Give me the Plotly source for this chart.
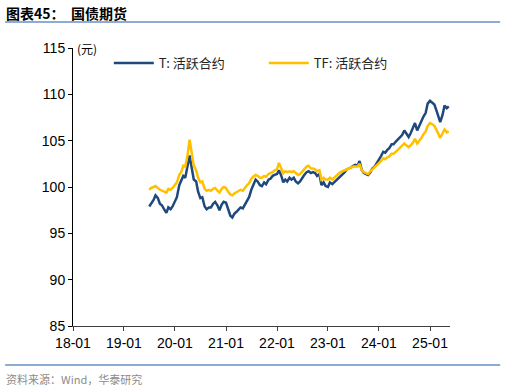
import pandas as pd
import plotly.graph_objects as go

# Semi-monthly readings starting 2019-07-01
start_date = "2019-07-01"
t_values = [
    97.9, 98.2, 98.6, 99.1, 98.8, 98.2, 98.0, 97.6, 97.2, 97.8, 97.6, 97.9,
    98.4, 98.9, 100.2, 100.6, 101.2, 101.0, 102.2, 103.4, 102.0, 100.8, 100.6, 99.5,
    98.8, 98.9, 97.9, 97.6, 97.8, 97.8, 98.2, 98.4, 98.0, 97.5, 98.1, 98.4,
    98.3, 97.6, 96.9, 96.7, 97.1, 97.3, 97.6, 97.8, 97.7, 98.1, 98.6, 98.9,
    99.7, 100.3, 100.8, 100.6, 100.2, 100.1, 100.5, 100.3, 100.8, 100.9, 101.2, 101.3,
    101.4, 101.8, 101.2, 100.5, 100.8, 100.6, 101.0, 100.8, 101.0, 100.6, 100.4, 100.6,
    101.0, 101.3, 101.6, 101.7, 101.5, 101.6, 101.5, 101.2, 101.4, 100.2, 100.5, 100.1,
    100.0, 100.5, 100.3, 100.5, 100.8, 101.0, 101.2, 101.4, 101.6, 101.9, 102.0, 102.1,
    102.3, 102.4, 102.3, 102.8, 101.8, 101.5, 101.4, 101.3, 101.6, 102.0, 102.2, 102.5,
    102.9, 103.3, 103.8, 103.7, 104.0, 104.2, 104.6, 104.6, 104.9, 105.1, 105.4, 105.6,
    106.1, 105.8, 105.4, 105.8, 106.4, 106.9, 106.1, 106.6, 107.1, 107.6, 108.0, 109.0,
    109.3, 109.1, 108.9, 108.3, 107.6, 107.0, 107.8, 108.8, 108.5, 108.7,
]
tf_values = [
    99.7, 99.9, 100.0, 100.1, 99.9, 99.7, 99.6, 99.5, 99.4, 99.8, 99.7, 99.9,
    100.2, 100.5, 101.3, 101.6, 102.3, 102.2, 103.5, 105.1, 103.6, 102.3, 101.8, 101.0,
    100.5, 100.6, 99.8, 99.6, 99.7, 99.6, 99.8, 99.9, 99.6, 99.4, 99.8, 100.0,
    99.9, 99.5, 99.2, 99.1, 99.3, 99.4, 99.6, 99.7, 99.6, 99.9, 100.2, 100.4,
    100.9, 101.1, 101.3, 101.2, 101.0, 101.0, 101.2, 101.1, 101.4, 101.5, 101.6, 101.8,
    101.9, 102.6, 102.0, 101.5, 101.7, 101.6, 101.7, 101.6, 101.7, 101.5, 101.3, 101.4,
    101.7, 101.9, 102.2, 102.3, 102.0, 102.0, 101.9, 101.7, 101.8, 100.8, 101.0, 100.8,
    100.8, 101.0, 100.8, 101.0, 101.2, 101.4, 101.6, 101.7, 101.8, 101.9, 102.0, 102.1,
    102.2, 102.2, 102.2, 102.5, 101.8, 101.6, 101.5, 101.4, 101.7, 101.9, 102.1, 102.3,
    102.6, 102.8, 103.1, 103.0, 103.2, 103.3, 103.6, 103.6, 103.8, 104.0, 104.2, 104.4,
    104.7, 104.5, 104.3, 104.5, 104.8, 105.2, 104.7, 105.0, 105.3, 105.7, 106.0, 106.6,
    106.9, 106.8, 106.6, 106.2, 105.8, 105.3, 105.8, 106.2, 105.9, 106.0,
]
tick_dates = ["2018-01-01", "2019-01-01", "2020-01-01", "2021-01-01",
              "2022-01-01", "2023-01-01", "2024-01-01", "2025-01-01"]
tick_labels = ["18-01", "19-01", "20-01", "21-01", "22-01", "23-01", "24-01", "25-01"]

n = min(len(t_values), len(tf_values))
dates = pd.date_range(start_date, periods=n, freq="SMS")

FONT = "Liberation Sans, Arial, Noto Sans CJK SC, sans-serif"
CJK = "Noto Sans CJK SC, Liberation Sans, sans-serif"

fig = go.Figure()
fig.add_trace(go.Scatter(x=dates, y=t_values[:n], mode="lines", name="T: 活跃合约",
                         line=dict(color="#1F497D", width=2.5)))
fig.add_trace(go.Scatter(x=dates, y=tf_values[:n], mode="lines", name="TF: 活跃合约",
                         line=dict(color="#FFC000", width=2.5)))

fig.update_layout(
    width=506, height=392,
    margin=dict(l=73, r=56, t=48, b=66),
    paper_bgcolor="white", plot_bgcolor="white",
    font=dict(family=FONT, size=14, color="#000000"),
    showlegend=True,
    legend=dict(orientation="h", x=0.095, y=1.0, xanchor="left", yanchor="top",
                font=dict(family=CJK, size=13, color="#222222"),
                bgcolor="rgba(0,0,0,0)", itemwidth=40, tracegroupgap=0,
                entrywidth=100, entrywidthmode="pixels"),
    xaxis=dict(type="date", range=["2018-01-01", "2025-05-24"],
               tickvals=tick_dates, ticktext=tick_labels,
               showgrid=False, zeroline=False, showline=True, linecolor="#404040",
               linewidth=1, ticks="outside", ticklen=4, tickcolor="#404040",
               tickfont=dict(size=14)),
    yaxis=dict(range=[85, 115], dtick=5, showgrid=False, zeroline=False,
               showline=True, linecolor="#000000", linewidth=1, ticks="outside",
               ticklen=4, tickcolor="#000000", tickfont=dict(size=14)),
    shapes=[
        dict(type="line", xref="paper", yref="paper", x0=-0.180, x1=1.133,
             y0=1.0935, y1=1.0935, line=dict(color="#6A8FC6", width=1.5)),
        dict(type="line", xref="paper", yref="paper", x0=-0.180, x1=1.133,
             y0=-0.140, y1=-0.140, line=dict(color="#6A8FC6", width=1.5)),
    ],
    annotations=[
        dict(text="<b>图表45：  国债期货</b>", xref="paper", yref="paper",
             x=-0.182, y=1.126, xanchor="left", yanchor="middle", showarrow=False,
             font=dict(family=CJK, size=14, color="#000000")),
        dict(text="(元)", xref="paper", yref="paper", x=0.005, y=1.0,
             xanchor="left", yanchor="middle", showarrow=False,
             font=dict(family=CJK, size=12, color="#000000")),
        dict(text="资料来源：Wind，华泰研究", xref="paper", yref="paper",
             x=-0.182, y=-0.155, xanchor="left", yanchor="top", showarrow=False,
             font=dict(family=CJK, size=11, color="#8C8C8C")),
    ],
)

fig.write_html("out.html", config={"displayModeBar": False},
               post_script="document.body.style.margin='0px';document.body.style.overflow='hidden';")
